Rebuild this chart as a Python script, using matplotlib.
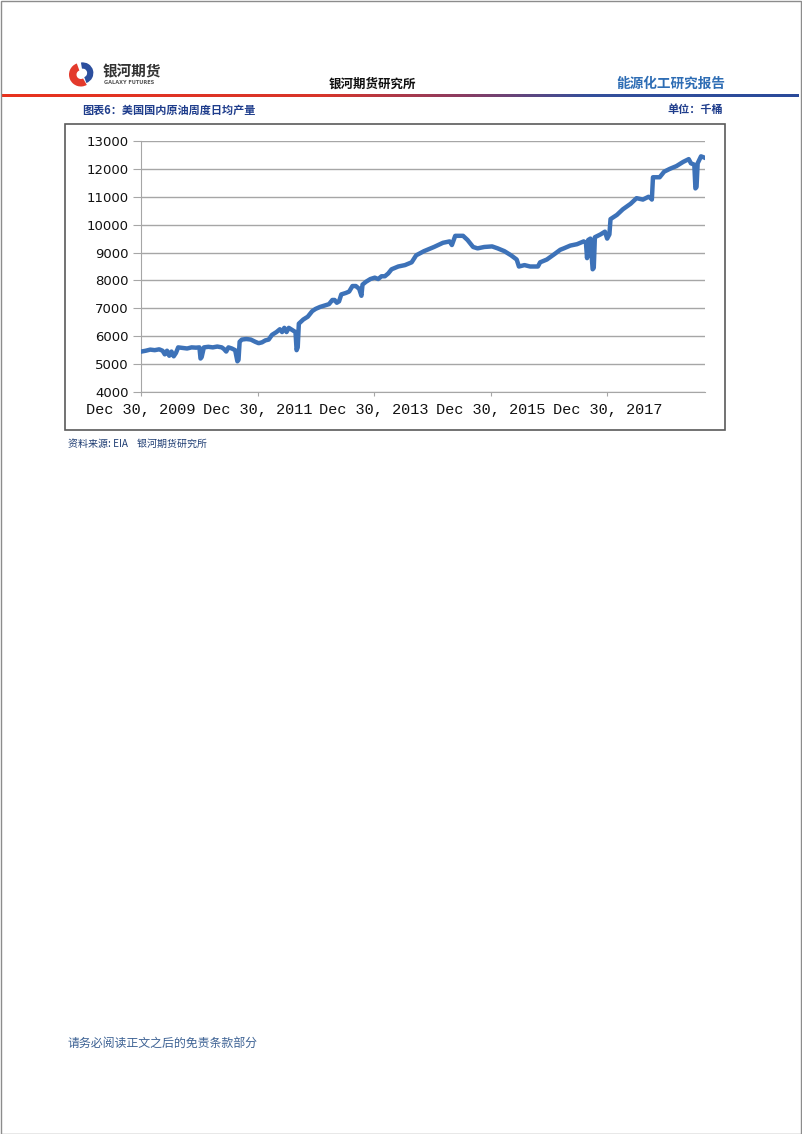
import numpy as np
import pandas as pd
import matplotlib
matplotlib.use('Agg')
import matplotlib.pyplot as plt
from matplotlib.patches import Rectangle, Wedge
from matplotlib.colors import LinearSegmentedColormap

plt.rcParams['font.family'] = ['Noto Sans CJK SC', 'DejaVu Sans']

# 美国国内原油周度日均产量 (千桶/日), 读图估计
dates = [
    '2010-01-01', '2010-01-29', '2010-02-26', '2010-03-26', '2010-04-23', '2010-05-14',
    '2010-05-28', '2010-06-11', '2010-06-25', '2010-07-09', '2010-07-23', '2010-08-06',
    '2010-08-20', '2010-09-17', '2010-10-15', '2010-11-12', '2010-12-10', '2010-12-31',
    '2011-01-07', '2011-01-14', '2011-01-28', '2011-02-25', '2011-03-25', '2011-04-22',
    '2011-05-20', '2011-06-03', '2011-06-17', '2011-07-01', '2011-07-22', '2011-08-12',
    '2011-08-26', '2011-09-02', '2011-09-09', '2011-09-23', '2011-10-21', '2011-11-18',
    '2011-12-16', '2012-01-06', '2012-01-27', '2012-02-17', '2012-03-09', '2012-03-30',
    '2012-04-27', '2012-05-18', '2012-06-01', '2012-06-15', '2012-06-29', '2012-07-13',
    '2012-07-27', '2012-08-10', '2012-08-24', '2012-08-31', '2012-09-07', '2012-09-14',
    '2012-10-12', '2012-11-09', '2012-12-07', '2012-12-28', '2013-01-25', '2013-02-22',
    '2013-03-22', '2013-04-12', '2013-04-26', '2013-05-10', '2013-05-24', '2013-06-07',
    '2013-07-05', '2013-07-26', '2013-08-16', '2013-09-06', '2013-09-27', '2013-10-11',
    '2013-10-18', '2013-11-08', '2013-12-06', '2014-01-03', '2014-01-24', '2014-02-14',
    '2014-03-07', '2014-03-28', '2014-04-18', '2014-05-30', '2014-07-11', '2014-08-22',
    '2014-09-19', '2014-11-07', '2015-01-09', '2015-03-06', '2015-04-17', '2015-05-01',
    '2015-05-22', '2015-07-10', '2015-08-07', '2015-09-11', '2015-10-09', '2015-11-20',
    '2016-01-08', '2016-02-12', '2016-03-25', '2016-05-06', '2016-06-10', '2016-06-24',
    '2016-07-29', '2016-09-02', '2016-10-21', '2016-11-04', '2016-12-16', '2017-02-03',
    '2017-03-10', '2017-04-01', '2017-05-12', '2017-06-23', '2017-08-04', '2017-08-18',
    '2017-08-25', '2017-09-01', '2017-09-15', '2017-09-29', '2017-10-06', '2017-10-13',
    '2017-11-17', '2017-12-15', '2017-12-29', '2018-01-12', '2018-01-19', '2018-02-28',
    '2018-04-06', '2018-05-25', '2018-07-01', '2018-08-10', '2018-09-14', '2018-09-28',
    '2018-10-05', '2018-10-12', '2018-11-23', '2018-12-21', '2019-01-25', '2019-03-08',
    '2019-04-19', '2019-05-24', '2019-06-07', '2019-06-28', '2019-07-05', '2019-07-12',
    '2019-07-19', '2019-08-09', '2019-09-01',
]
production = [
    5450, 5480, 5520, 5500, 5530, 5480,
    5350, 5480, 5300, 5450, 5280, 5400,
    5600, 5580, 5560, 5600, 5590, 5600,
    5200, 5250, 5600, 5620, 5600, 5630,
    5600, 5540, 5450, 5600, 5560, 5500,
    5100, 5150, 5800, 5880, 5900, 5880,
    5800, 5750, 5780, 5850, 5880, 6050,
    6150, 6250, 6150, 6300, 6150, 6300,
    6250, 6200, 6150, 5500, 5600, 6450,
    6600, 6700, 6900, 6980, 7050, 7100,
    7150, 7300, 7300, 7200, 7250, 7500,
    7550, 7600, 7800, 7800, 7700, 7450,
    7850, 7950, 8050, 8100, 8050, 8150,
    8150, 8250, 8400, 8500, 8550, 8650,
    8900, 9050, 9200, 9350, 9400, 9270,
    9600, 9600, 9450, 9200, 9150, 9200,
    9220, 9150, 9050, 8900, 8750, 8500,
    8550, 8500, 8500, 8650, 8750, 8950,
    9100, 9150, 9250, 9300, 9400, 9350,
    8800, 9450, 9500, 8400, 8450, 9550,
    9650, 9750, 9500, 9650, 10200, 10350,
    10550, 10750, 10950, 10900, 11000, 10950,
    10900, 11700, 11700, 11900, 12000, 12100,
    12250, 12350, 12200, 12150, 11300, 11350,
    12200, 12450, 12400,
]
tick_dates = ['2009-12-30', '2011-12-30', '2013-12-30', '2015-12-30', '2017-12-30']
tick_labels = ['Dec 30, 2009', 'Dec 30, 2011', 'Dec 30, 2013', 'Dec 30, 2015', 'Dec 30, 2017']
y_ticks = [4000, 5000, 6000, 7000, 8000, 9000, 10000, 11000, 12000, 13000]

W, H = 802, 1134
fig = plt.figure(figsize=(W / 100, H / 100), dpi=100)
fig.patch.set_facecolor('white')


def fx(x):
    return x / W


def fy(y):
    return 1 - y / H


# bordure de page
fig.patches.append(Rectangle((0.5 / W, 0.5 / H), 1 - 1.5 / W, 1 - 1.5 / H, transform=fig.transFigure,
                             fill=False, edgecolor='#8c8c8c', linewidth=1))

# logo
lax = fig.add_axes([fx(69), fy(87), fx(25), 26 / H])
lax.set_xlim(-1, 1)
lax.set_ylim(-1, 1)
lax.set_aspect('equal')
lax.axis('off')
lax.add_patch(Wedge((-0.05, -0.05), 0.95, 110, 300, width=0.6, facecolor='#e33a2c'))
lax.add_patch(Wedge((0.1, 0.08), 0.85, 290, 100, width=0.5, facecolor='#2c4f9e'))
fig.text(fx(103), fy(71), '银河期货', fontsize=10.5, fontweight='bold', color='#333333', va='center')
fig.text(fx(104), fy(82.5), 'GALAXY FUTURES', fontsize=3.6, fontweight='bold', color='#555555',
         va='center', family='DejaVu Sans')

fig.text(fx(372), fy(84), '银河期货研究所', fontsize=9, fontweight='bold', color='#111111',
         ha='center', va='center')
fig.text(fx(725), fy(84), '能源化工研究报告', fontsize=9.8, fontweight='bold', color='#2e6db4',
         ha='right', va='center')

# ligne dégradée rouge -> bleu
cmap = LinearSegmentedColormap.from_list('hdr', [(0, '#e8321e'), (0.4, '#d8352a'), (0.58, '#8a3c62'),
                                                 (0.74, '#34509c'), (1, '#2a4a9a')])
gax = fig.add_axes([fx(1), fy(97.5), fx(798), 4 / H])
gax.imshow(np.linspace(0, 1, 400)[None, :], aspect='auto', cmap=cmap)
gax.axis('off')

fig.text(fx(82), fy(110), '图表6：美国国内原油周度日均产量', fontsize=8, fontweight='bold',
         color='#1f3d8c', va='center')
fig.text(fx(723), fy(110), '单位：千桶', fontsize=8, fontweight='bold', color='#1f3d8c',
         ha='right', va='center')

# cadre du graphique
fig.patches.append(Rectangle((fx(65), fy(430)), fx(725 - 65), (430 - 124) / H, transform=fig.transFigure,
                             fill=False, edgecolor='#5a5a5a', linewidth=1.2))

ax = fig.add_axes([fx(141), fy(392), fx(705 - 141), (392 - 141) / H])
x = pd.to_datetime(dates)
ax.plot(x, production, color='#3d72b8', linewidth=3.2, solid_joinstyle='round', zorder=3)

ax.set_ylim(4000, 13000)
ax.set_yticks(y_ticks)
ax.set_xlim(pd.Timestamp('2009-12-30'), pd.Timestamp('2019-09-03'))
ax.set_xticks(pd.to_datetime(tick_dates))
ax.set_xticklabels(tick_labels, family='Liberation Mono', fontsize=11)
for lab in ax.get_yticklabels():
    lab.set_family('DejaVu Sans')
    lab.set_fontsize(9.5)
ax.yaxis.grid(True, color='#a6a6a6', linewidth=1)
ax.set_axisbelow(True)
for s in ['top', 'right']:
    ax.spines[s].set_visible(False)
for s in ['left', 'bottom']:
    ax.spines[s].set_color('#a6a6a6')
ax.tick_params(axis='y', length=6, color='#a6a6a6', pad=3, labelcolor='#111111')
ax.tick_params(axis='x', length=3, color='#a6a6a6', pad=5, labelcolor='#111111')

fig.text(fx(68), fy(444), '资料来源: EIA    银河期货研究所', fontsize=7.2, color='#1f3d73', va='center')
fig.text(fx(68), fy(1043), '请务必阅读正文之后的免责条款部分', fontsize=8.6, color='#3d6294', va='center')

fig.savefig('out.png', dpi=100)
